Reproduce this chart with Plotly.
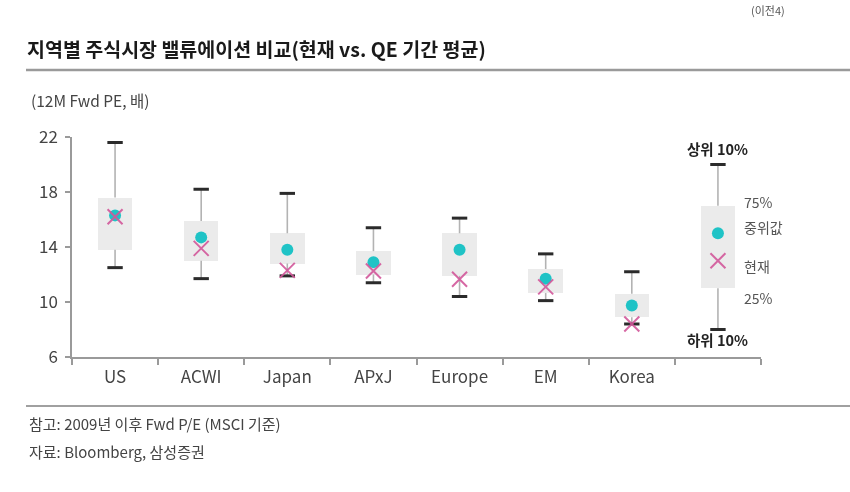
import plotly.graph_objects as go

# ---------------- data ----------------
categories = ["US", "ACWI", "Japan", "APxJ", "Europe", "EM", "Korea"]
p10 = [12.5, 11.7, 11.9, 11.4, 10.4, 10.1, 8.4]
q1 = [13.8, 13.0, 12.8, 12.0, 11.9, 10.65, 8.9]
median = [16.3, 14.7, 13.8, 12.9, 13.8, 11.7, 9.75]
q3 = [17.6, 15.9, 15.0, 13.7, 15.0, 12.4, 10.6]
p90 = [21.6, 18.2, 17.9, 15.4, 16.1, 13.5, 12.2]
current = [16.2, 13.9, 12.3, 12.25, 11.65, 11.1, 8.4]

# explanatory (legend) box drawn in an extra, unlabeled slot
legend_cat = " "
legend_p10, legend_q1, legend_median, legend_q3, legend_p90, legend_current = 8, 11, 15, 17, 20, 13

y_ticks = [6, 10, 14, 18, 22]

title_text = "지역별 주식시장 밸류에이션 비교(현재 vs. QE 기간 평균)"
unit_text = "(12M Fwd PE, 배)"
note_text = "참고: 2009년 이후 Fwd P/E (MSCI 기준)"
source_text = "자료: Bloomberg, 삼성증권"
corner_text = "(이전4)"

# ---------------- build ----------------
FONT = "Noto Sans CJK KR"
cats = categories + [legend_cat]
P10 = p10 + [legend_p10]
Q1 = q1 + [legend_q1]
MED = median + [legend_median]
Q3 = q3 + [legend_q3]
P90 = p90 + [legend_p90]
CUR = current + [legend_current]

fig = go.Figure()

# boxes (interquartile range)
fig.add_trace(go.Bar(
    x=cats, y=[b - a for a, b in zip(Q1, Q3)], base=Q1, width=0.4,
    marker=dict(color="#ebebeb", line=dict(width=0)), hoverinfo="skip", showlegend=False))

# whiskers (outside boxes)
wx, wy = [], []
for c, lo, a, b, hi in zip(cats, P10, Q1, Q3, P90):
    wx += [c, c, None, c, c, None]
    wy += [lo, a, None, b, hi, None]
fig.add_trace(go.Scatter(x=wx, y=wy, mode="lines", line=dict(color="#b3b3b3", width=1.6),
                         hoverinfo="skip", showlegend=False))

# caps
fig.add_trace(go.Scatter(
    x=cats + cats, y=P10 + P90, mode="markers",
    marker=dict(symbol="line-ew", size=11, line=dict(color="#2b2b2b", width=3)),
    hoverinfo="skip", showlegend=False))

# median
fig.add_trace(go.Scatter(x=cats, y=MED, mode="markers",
                         marker=dict(symbol="circle", size=12, color="#1fc3c6"),
                         showlegend=False))
# current
fig.add_trace(go.Scatter(x=cats, y=CUR, mode="markers",
                         marker=dict(symbol="x-thin", size=15, line=dict(color="#d2579a", width=2)),
                         opacity=0.9, showlegend=False))

# plot area pixel geometry
L, R, T, B = 72, 761, 137, 357
PW, PH = R - L, B - T


def px(x):
    return (x - L) / PW


def py(y):
    return (B - y) / PH


annotations = [
    dict(text=title_text, x=px(25), y=py(48), xanchor="left", yanchor="middle",
         font=dict(size=19.5, color="#1a1a1a", family=FONT, weight="bold")),
    dict(text=unit_text, x=px(29), y=py(100), xanchor="left", yanchor="middle",
         font=dict(size=15.5, color="#444444", family=FONT)),
    dict(text=note_text, x=px(27), y=py(423), xanchor="left", yanchor="middle",
         font=dict(size=15, color="#444444", family=FONT)),
    dict(text=source_text, x=px(27), y=py(451), xanchor="left", yanchor="middle",
         font=dict(size=15, color="#444444", family=FONT)),
    dict(text=corner_text, x=px(768), y=py(0), xanchor="center", yanchor="top",
         font=dict(size=11, color="#555555", family=FONT)),
]
for a in annotations:
    a.update(xref="paper", yref="paper", showarrow=False)

# legend labels tied to the legend box
leg_annots = [
    dict(text="<b>상위 10%</b>", y=21.2, xanchor="center", xshift=0, size=14.5, color="#222222"),
    dict(text="<b>하위 10%</b>", y=7.25, xanchor="center", xshift=0, size=14.5, color="#222222"),
    dict(text="75%", y=17.3, xanchor="left", xshift=24, size=14, color="#555555"),
    dict(text="중위값", y=15.45, xanchor="left", xshift=24, size=14, color="#555555"),
    dict(text="현재", y=12.65, xanchor="left", xshift=24, size=14, color="#555555"),
    dict(text="25%", y=10.3, xanchor="left", xshift=24, size=14, color="#555555"),
]
for a in leg_annots:
    annotations.append(dict(text=a["text"], x=legend_cat, y=a["y"], xref="x", yref="y",
                            xanchor=a["xanchor"], yanchor="middle", xshift=a["xshift"],
                            showarrow=False,
                            font=dict(size=a["size"], color=a["color"], family=FONT)))

shapes = [
    dict(type="line", xref="paper", yref="paper", x0=px(26), x1=px(850), y0=py(70), y1=py(70),
         line=dict(color="#9a9a9a", width=2.5)),
    dict(type="line", xref="paper", yref="paper", x0=px(26), x1=px(850), y0=py(406), y1=py(406),
         line=dict(color="#a0a0a0", width=2)),
]

fig.update_layout(
    width=850, height=492,
    margin=dict(l=L, r=850 - R, t=T, b=492 - B),
    paper_bgcolor="white", plot_bgcolor="white",
    font=dict(family=FONT, color="#444444"),
    showlegend=False, bargap=0,
    annotations=annotations, shapes=shapes,
    xaxis=dict(type="category", categoryorder="array", categoryarray=cats,
               range=[-0.5, len(cats) - 0.5], tickson="boundaries",
               showline=True, linecolor="#9a9a9a", linewidth=1.5,
               ticks="outside", ticklen=6, tickcolor="#9a9a9a", tickwidth=1.5,
               ticklabelstandoff=4,
               showgrid=False, zeroline=False,
               tickfont=dict(size=17, color="#444444", family=FONT)),
    yaxis=dict(range=[6, 22], tickvals=y_ticks, showline=True, linecolor="#9a9a9a", linewidth=1.5,
               ticks="outside", ticklen=5, tickcolor="#9a9a9a", tickwidth=1.5,
               ticklabelstandoff=4,
               showgrid=False, zeroline=False,
               tickfont=dict(size=17, color="#444444", family=FONT)),
)

fig.write_html("out.html")
